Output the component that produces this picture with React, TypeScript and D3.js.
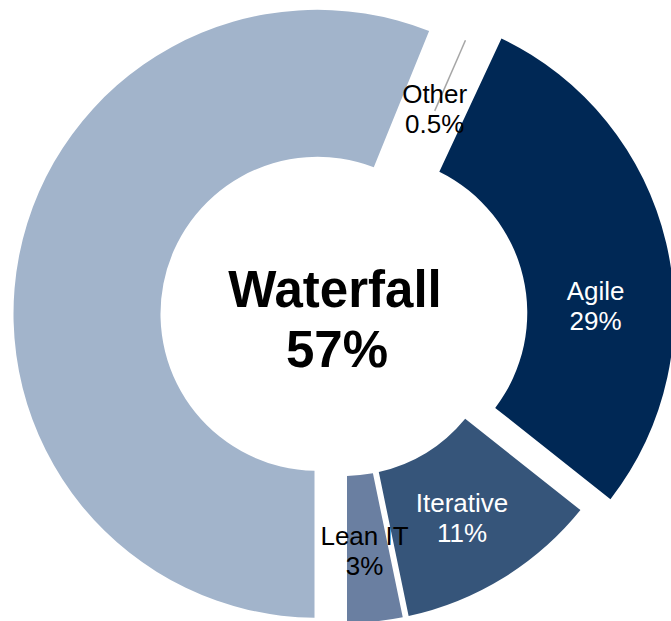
import React from "react";
import * as d3 from "d3";

// ---- data ----
const categories = ["Waterfall", "Other", "Agile", "Iterative", "Lean IT"];
const values = [57, 0.5, 29, 11, 3];
const valueLabels = ["57%", "0.5%", "29%", "11%", "3%"];

// ---- styles ----
const colors = ["#A2B4CB", "none", "#002855", "#36557A", "#6A7FA1"];
const labelColors = ["#000000", "#000000", "#FFFFFF", "#FFFFFF", "#000000"];
const explode = [27, 0, 27, 0, 0];
const labelShift: [number, number][] = [[0, 0], [0, 0], [1, 48], [-3, 5], [-3, 5]];

const W = 671;
const H = 621;
const CX = 344;
const CY = 319;
const R_OUT = 304;
const R_IN = 157;
const GAP = 6;
const OTHER_LABEL_R = 227;
const FONT = "'Liberation Sans', Arial, Helvetica, sans-serif";

export default function App() {
  const pie = d3
    .pie<number>()
    .sort(null)
    .value((d) => d)
    .startAngle(Math.PI)
    .endAngle(3 * Math.PI)
    .padAngle(GAP / R_OUT);
  const arcs = pie(values);
  const arc = d3
    .arc<d3.PieArcDatum<number>>()
    .innerRadius(R_IN)
    .outerRadius(R_OUT)
    .padRadius(R_OUT);

  const dirOf = (d: d3.PieArcDatum<number>) => {
    const m = (d.startAngle + d.endAngle) / 2;
    return [Math.sin(m), -Math.cos(m)];
  };

  return (
    <svg
      width={W}
      height={H}
      style={{ position: "absolute", left: 0, top: 0, background: "#fff" }}
    >
      {arcs.map((d, i) => {
        const [ux, uy] = dirOf(d);
        const ox = CX + ux * explode[i];
        const oy = CY + uy * explode[i];
        return (
          <path
            key={categories[i]}
            d={arc(d) || ""}
            transform={`translate(${ox},${oy})`}
            fill={colors[i]}
          />
        );
      })}

      {arcs.map((d, i) => {
        if (i === 0) return null;
        const [ux, uy] = dirOf(d);
        const ox = CX + ux * explode[i];
        const oy = CY + uy * explode[i];
        let lx: number;
        let ly: number;
        let leader: React.ReactNode = null;
        if (categories[i] === "Other") {
          lx = ox + ux * OTHER_LABEL_R;
          ly = oy + uy * OTHER_LABEL_R;
          leader = (
            <line
              x1={ox + ux * R_OUT}
              y1={oy + uy * R_OUT}
              x2={lx}
              y2={ly}
              stroke="#A6A6A6"
              strokeWidth={1.5}
            />
          );
        } else {
          const [cx, cy] = arc.centroid(d);
          lx = ox + cx + labelShift[i][0];
          ly = oy + cy + labelShift[i][1];
        }
        return (
          <g key={"lab" + i}>
            {leader}
            <text
              x={lx}
              y={ly}
              textAnchor="middle"
              fontFamily={FONT}
              fontSize={26}
              fill={labelColors[i]}
            >
              <tspan x={lx} dy={-8}>
                {categories[i]}
              </tspan>
              <tspan x={lx} dy={30}>
                {valueLabels[i]}
              </tspan>
            </text>
          </g>
        );
      })}

      <text
        x={CX - 9}
        y={CY - 12}
        textAnchor="middle"
        fontFamily={FONT}
        fontWeight="bold"
        fontSize={51}
        fill="#000"
      >
        <tspan x={CX - 9}>{categories[0]}</tspan>
        <tspan x={CX - 7} dy={60}>
          {valueLabels[0]}
        </tspan>
      </text>
    </svg>
  );
}
